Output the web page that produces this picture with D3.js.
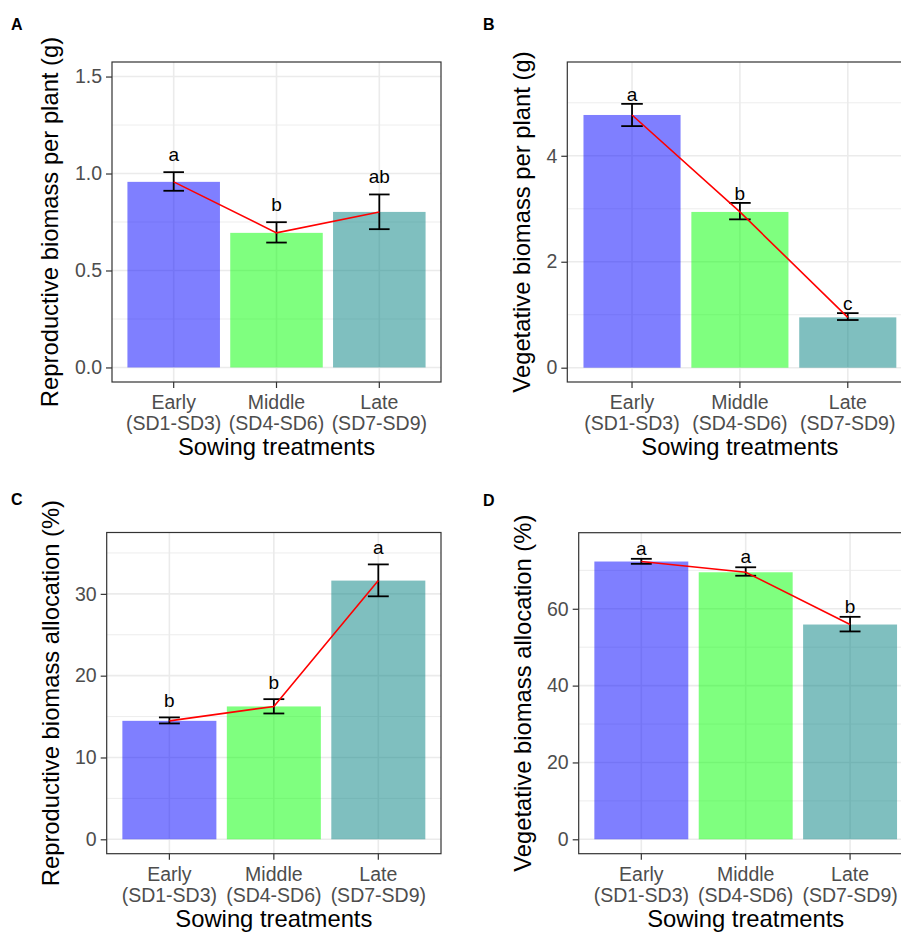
<!DOCTYPE html>
<html>
<head>
<meta charset="utf-8">
<script src="https://cdn.jsdelivr.net/npm/d3@7"></script>
<style>
  html, body { margin: 0; padding: 0; background: #fff; }
  svg { display: block; font-family: "Liberation Sans", Arial, sans-serif; }
</style>
</head>
<body>
<svg id="chart" width="901" height="933"></svg>
<script>
// ---------- data ----------
const categoryNames = ["Early", "Middle", "Late"];
const categoryRanges = ["(SD1-SD3)", "(SD4-SD6)", "(SD7-SD9)"];
const barColors = ["#0000ff", "#00ff00", "#008080"];

// A: reproductive biomass per plant (g)
const reproBiomassMean  = [0.957, 0.694, 0.802];
const reproBiomassLower = [0.911, 0.644, 0.713];
const reproBiomassUpper = [1.007, 0.749, 0.892];
const reproBiomassLetters = ["a", "b", "ab"];
const reproBiomassTicks = [0, 0.5, 1.0, 1.5];
const reproBiomassMinor = [0.25, 0.75, 1.25];

// B: vegetative biomass per plant (g)
const vegBiomassMean  = [4.77, 2.94, 0.95];
const vegBiomassLower = [4.56, 2.80, 0.90];
const vegBiomassUpper = [4.98, 3.11, 1.03];
const vegBiomassLetters = ["a", "b", "c"];
const vegBiomassTicks = [0, 2, 4];
const vegBiomassMinor = [1, 3, 5];

// C: reproductive biomass allocation (%)
const reproAllocMean  = [14.48, 16.24, 31.62];
const reproAllocLower = [14.16, 15.38, 29.70];
const reproAllocUpper = [14.90, 17.13, 33.60];
const reproAllocLetters = ["b", "b", "a"];
const reproAllocTicks = [0, 10, 20, 30];
const reproAllocMinor = [5, 15, 25, 35];

// D: vegetative biomass allocation (%)
const vegAllocMean  = [72.3, 69.5, 55.9];
const vegAllocLower = [71.7, 68.6, 54.1];
const vegAllocUpper = [73.0, 70.8, 57.9];
const vegAllocLetters = ["a", "a", "b"];
const vegAllocTicks = [0, 20, 40, 60];
const vegAllocMinor = [10, 30, 50, 70];

// ---------- drawing ----------
const svg = d3.select("#chart");
const TICK_FS = 19.5, TITLE_FS = 23.8, LETTER_FS = 19;

function drawPanel(p) {
  const g = svg.append("g");
  const x = d3.scaleBand().domain(categoryNames)
    .range([p.left, p.right]).paddingInner(0.1).paddingOuter(0.15);
  const y = d3.scaleLinear().domain(p.domain).range([p.bottom, p.top]);
  const cx = d => x(d) + x.bandwidth() / 2;

  g.append("rect").attr("x", p.left).attr("y", p.top)
    .attr("width", p.right - p.left).attr("height", p.bottom - p.top)
    .attr("fill", "#fff");

  // minor grid
  g.selectAll(".minor").data(p.minor).enter().append("line")
    .attr("x1", p.left).attr("x2", p.right)
    .attr("y1", d => y(d)).attr("y2", d => y(d))
    .attr("stroke", "#ebebeb").attr("stroke-width", 0.9);
  // major grid
  g.selectAll(".majorY").data(p.ticks).enter().append("line")
    .attr("x1", p.left).attr("x2", p.right)
    .attr("y1", d => y(d)).attr("y2", d => y(d))
    .attr("stroke", "#ebebeb").attr("stroke-width", 1.6);
  g.selectAll(".majorX").data(categoryNames).enter().append("line")
    .attr("x1", cx).attr("x2", cx)
    .attr("y1", p.top).attr("y2", p.bottom)
    .attr("stroke", "#ebebeb").attr("stroke-width", 1.6);

  // bars
  g.selectAll(".bar").data(p.mean).enter().append("rect")
    .attr("x", (d, i) => x(categoryNames[i]))
    .attr("width", x.bandwidth())
    .attr("y", d => y(d))
    .attr("height", d => y(0) - y(d))
    .attr("fill", (d, i) => barColors[i])
    .attr("fill-opacity", 0.5);

  // error bars
  const capHalf = x.step() * 0.1;
  p.mean.forEach((m, i) => {
    const xc = cx(categoryNames[i]);
    const eg = g.append("g").attr("stroke", "#000").attr("stroke-width", 1.8);
    eg.append("line").attr("x1", xc).attr("x2", xc)
      .attr("y1", y(p.lower[i])).attr("y2", y(p.upper[i]));
    eg.append("line").attr("x1", xc - capHalf).attr("x2", xc + capHalf)
      .attr("y1", y(p.lower[i])).attr("y2", y(p.lower[i]));
    eg.append("line").attr("x1", xc - capHalf).attr("x2", xc + capHalf)
      .attr("y1", y(p.upper[i])).attr("y2", y(p.upper[i]));
  });

  // red line through means
  const line = d3.line().x((d, i) => cx(categoryNames[i])).y(d => y(d));
  g.append("path").datum(p.mean).attr("d", line)
    .attr("fill", "none").attr("stroke", "#ff0000").attr("stroke-width", 1.6);

  // letters
  g.selectAll(".letter").data(p.letters).enter().append("text")
    .attr("x", (d, i) => cx(categoryNames[i]))
    .attr("y", (d, i) => y(p.upper[i]) - p.letterGap)
    .attr("text-anchor", "middle")
    .attr("font-size", LETTER_FS).attr("fill", "#000")
    .text(d => d);

  // panel border
  g.append("rect").attr("x", p.left).attr("y", p.top)
    .attr("width", p.right - p.left).attr("height", p.bottom - p.top)
    .attr("fill", "none").attr("stroke", "#333").attr("stroke-width", 1.2);

  // y axis
  const ya = g.append("g").attr("transform", `translate(${p.left},0)`)
    .call(d3.axisLeft(y).tickValues(p.ticks).tickFormat(p.fmt).tickSize(6).tickPadding(4));
  ya.select(".domain").remove();
  ya.selectAll(".tick line").attr("stroke", "#333").attr("stroke-width", 1.2);
  ya.selectAll(".tick text").attr("font-size", TICK_FS).attr("fill", "#4d4d4d")
    .attr("font-family", "Liberation Sans, Arial, sans-serif");

  // x axis
  const xa = g.append("g").attr("transform", `translate(0,${p.bottom})`)
    .call(d3.axisBottom(x).tickSize(6).tickFormat(""));
  xa.select(".domain").remove();
  xa.selectAll(".tick line").attr("stroke", "#333").attr("stroke-width", 1.2);
  categoryNames.forEach((c, i) => {
    const t = g.append("text").attr("x", cx(c)).attr("y", p.bottom + 27)
      .attr("text-anchor", "middle").attr("font-size", TICK_FS).attr("fill", "#4d4d4d");
    t.append("tspan").attr("x", cx(c)).text(c);
    t.append("tspan").attr("x", cx(c)).attr("dy", 21).text(categoryRanges[i]);
  });

  // axis titles
  g.append("text").attr("x", (p.left + p.right) / 2).attr("y", p.bottom + 73)
    .attr("text-anchor", "middle").attr("font-size", TITLE_FS).attr("fill", "#000")
    .text("Sowing treatments");
  const ymid = (p.top + p.bottom) / 2;
  g.append("text").attr("transform", `translate(${p.ytitleX},${ymid}) rotate(-90)`)
    .attr("text-anchor", "middle").attr("font-size", TITLE_FS).attr("fill", "#000")
    .attr("dy", "0.35em")
    .text(p.ytitle);

  // panel tag
  g.append("text").attr("x", p.tagX).attr("y", p.tagY)
    .attr("font-size", 16).attr("font-weight", "bold").attr("fill", "#000")
    .text(p.tag);
}

drawPanel({
  tag: "A", tagX: 11, tagY: 30,
  left: 112, right: 441, top: 62, bottom: 382,
  domain: [-0.075, 1.575],
  mean: reproBiomassMean, lower: reproBiomassLower, upper: reproBiomassUpper,
  letters: reproBiomassLetters, letterGap: 11,
  ticks: reproBiomassTicks, minor: reproBiomassMinor, fmt: d3.format(".1f"),
  ytitle: "Reproductive biomass per plant (g)", ytitleX: 50
});
drawPanel({
  tag: "B", tagX: 483, tagY: 30,
  left: 567.3, right: 912.5, top: 62, bottom: 382,
  domain: [-0.27, 5.77],
  mean: vegBiomassMean, lower: vegBiomassLower, upper: vegBiomassUpper,
  letters: vegBiomassLetters, letterGap: 3,
  ticks: vegBiomassTicks, minor: vegBiomassMinor, fmt: d3.format("d"),
  ytitle: "Vegetative biomass per plant (g)", ytitleX: 522
});
drawPanel({
  tag: "C", tagX: 11, tagY: 505,
  left: 106.7, right: 441, top: 532.5, bottom: 853.7,
  domain: [-1.76, 37.5],
  mean: reproAllocMean, lower: reproAllocLower, upper: reproAllocUpper,
  letters: reproAllocLetters, letterGap: 10,
  ticks: reproAllocTicks, minor: reproAllocMinor, fmt: d3.format("d"),
  ytitle: "Reproductive biomass allocation (%)", ytitleX: 51
});
drawPanel({
  tag: "D", tagX: 483, tagY: 506,
  left: 578.7, right: 912.7, top: 532.7, bottom: 853.7,
  domain: [-3.75, 79.8],
  mean: vegAllocMean, lower: vegAllocLower, upper: vegAllocUpper,
  letters: vegAllocLetters, letterGap: 4,
  ticks: vegAllocTicks, minor: vegAllocMinor, fmt: d3.format("d"),
  ytitle: "Vegetative biomass allocation (%)", ytitleX: 522.5
});
</script>
</body>
</html>
